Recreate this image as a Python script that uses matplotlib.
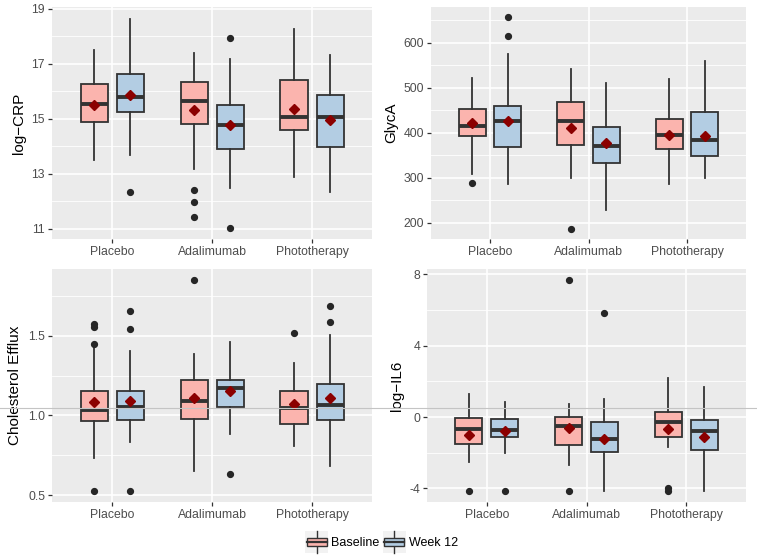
import matplotlib
matplotlib.use("Agg")
import matplotlib.pyplot as plt
from matplotlib.patches import Rectangle, Patch
from matplotlib.lines import Line2D
from matplotlib.legend_handler import HandlerBase
from matplotlib.ticker import FixedLocator, FormatStrFormatter

plt.rcParams['font.family'] = ['Liberation Sans', 'DejaVu Sans']

groups = ['Placebo', 'Adalimumab', 'Phototherapy']
times = ['Baseline', 'Week 12']
# order in every list: Placebo-B, Placebo-W12, Ada-B, Ada-W12, Photo-B, Photo-W12

# log-CRP
crp_whislo = [13.48, 13.69, 13.16, 12.47, 12.86, 12.32]
crp_q1     = [14.88, 15.24, 14.82, 13.91, 14.60, 13.98]
crp_med    = [15.53, 15.78, 15.65, 14.78, 15.06, 15.06]
crp_q3     = [16.28, 16.64, 16.35, 15.49, 16.40, 15.86]
crp_whishi = [17.49, 18.64, 17.38, 17.19, 18.28, 17.32]
crp_mean   = [15.51, 15.85, 15.31, 14.77, 15.37, 14.96]
crp_fliers = [[], [12.32], [12.41, 11.98, 11.43], [17.95, 11.02], [], []]

# GlycA
gly_whislo = [309, 285, 299, 229, 286, 299]
gly_q1     = [393, 369, 372, 333, 363, 348]
gly_med    = [415, 427, 427, 371, 395, 383]
gly_q3     = [453, 459, 468, 413, 431, 445]
gly_whishi = [521, 575, 542, 511, 520, 559]
gly_mean   = [422, 427, 411, 377, 395, 393]
gly_fliers = [[289], [656, 614], [187], [], [], []]

# Cholesterol efflux
ce_whislo = [0.733, 0.833, 0.650, 0.883, 0.806, 0.685]
ce_q1     = [0.962, 0.973, 0.979, 1.054, 0.944, 0.969]
ce_med    = [1.037, 1.052, 1.088, 1.173, 1.046, 1.067]
ce_q3     = [1.154, 1.154, 1.225, 1.221, 1.154, 1.194]
ce_whishi = [1.429, 1.404, 1.383, 1.460, 1.331, 1.506]
ce_mean   = [1.083, 1.088, 1.106, 1.154, 1.071, 1.106]
ce_fliers = [[1.575, 1.554, 1.448, 0.523], [1.656, 1.544, 0.527], [1.852],
             [0.635], [1.515], [1.688, 1.583]]

# log-IL6
il6_whislo = [-2.51, -2.01, -2.66, -4.15, -1.69, -4.15]
il6_q1     = [-1.51, -1.13, -1.56, -1.97, -1.10, -1.84]
il6_med    = [-0.67, -0.74, -0.52, -1.25, -0.26, -0.78]
il6_q3     = [-0.04, -0.09, 0.00, -0.28, 0.28, -0.17]
il6_whishi = [1.27, 0.82, 0.74, 1.02, 2.21, 1.67]
il6_mean   = [-1.00, -0.80, -0.63, -1.21, -0.65, -1.12]
il6_fliers = [[-4.17], [-4.17], [7.70, -4.17], [5.80], [-4.00, -4.17], []]

fills = ['#FBB4AE', '#B3CDE3']
edge = '#333333'

panels = [
    ('log\u2212CRP', crp_whislo, crp_q1, crp_med, crp_q3, crp_whishi, crp_mean, crp_fliers,
     (10.62, 19.07), [11, 13, 15, 17, 19], [12, 14, 16, 18], '%d'),
    ('GlycA', gly_whislo, gly_q1, gly_med, gly_q3, gly_whishi, gly_mean, gly_fliers,
     (164, 679), [200, 300, 400, 500, 600], [250, 350, 450, 550, 650], '%d'),
    ('Cholesterol Efflux', ce_whislo, ce_q1, ce_med, ce_q3, ce_whishi, ce_mean, ce_fliers,
     (0.457, 1.918), [0.5, 1.0, 1.5], [0.75, 1.25, 1.75], '%.1f'),
    ('log\u2212IL6', il6_whislo, il6_q1, il6_med, il6_q3, il6_whishi, il6_mean, il6_fliers,
     (-4.76, 8.29), [-4, 0, 4, 8], [-2, 2, 6], '%d'),
]

# axes rectangles in figure fractions (from pixel layout)
rects = [
    [52/757, 1-239/558, 320/757, 232/558],
    [431/757, 1-239/558, 315/757, 232/558],
    [52/757, 1-502/558, 320/757, 233/558],
    [427/757, 1-502/558, 319/757, 233/558],
]

fig = plt.figure(figsize=(7.57, 5.58), dpi=100)

offset = 0.18
bw = 0.27

for (ylab, wlo, q1, med, q3, whi, mean, fl, ylim, major, minor, fmt), r in zip(panels, rects):
    ax = fig.add_axes(r)
    ax.set_facecolor('#EBEBEB')
    for s in ax.spines.values():
        s.set_visible(False)

    stats = []
    pos = []
    for i in range(6):
        g, t = divmod(i, 2)
        stats.append(dict(whislo=wlo[i], q1=q1[i], med=med[i], q3=q3[i],
                          whishi=whi[i], mean=mean[i], fliers=fl[i]))
        pos.append(g + 1 + (offset if t else -offset))

    bp = ax.bxp(stats, positions=pos, widths=bw, patch_artist=True,
                showcaps=False, showmeans=True, manage_ticks=False,
                boxprops=dict(edgecolor=edge, linewidth=1.3),
                medianprops=dict(color=edge, linewidth=2.8),
                whiskerprops=dict(color=edge, linewidth=1.3),
                meanprops=dict(marker='D', markerfacecolor='#8B0000',
                               markeredgecolor='#8B0000', markersize=5.5),
                flierprops=dict(marker='o', markerfacecolor='#262626',
                                markeredgecolor='#262626', markersize=4.2))
    for i, b in enumerate(bp['boxes']):
        b.set_facecolor(fills[i % 2])
    for el in bp['boxes'] + bp['whiskers'] + bp['medians'] + bp['means'] + bp['fliers']:
        el.set_zorder(3)

    ax.set_xlim(0.4, 3.6)
    ax.set_ylim(*ylim)
    ax.set_xticks([1, 2, 3])
    ax.set_xticklabels(groups)
    ax.yaxis.set_major_locator(FixedLocator(major))
    ax.yaxis.set_minor_locator(FixedLocator(minor))
    ax.yaxis.set_major_formatter(FormatStrFormatter(fmt))
    ax.grid(which='major', color='white', linewidth=1.2, zorder=0)
    ax.grid(which='minor', axis='y', color='white', linewidth=0.6, zorder=0)
    ax.set_axisbelow(True)
    ax.tick_params(which='major', length=3, width=0.9, color=edge,
                   labelsize=8.8, labelcolor='#4D4D4D', pad=2)
    ax.tick_params(which='minor', length=0)
    ax.set_ylabel(ylab, fontsize=11, color='black', labelpad=4)


class BoxKey(HandlerBase):
    def create_artists(self, legend, orig, xd, yd, w, h, fs, trans):
        x0, y0 = -xd, -yd
        bg = Rectangle((x0 - 1, y0 - 4), w + 2, h + 8, facecolor='#F2F2F2',
                       edgecolor='none', transform=trans)
        cx = x0 + w / 2
        wl = Line2D([cx, cx], [y0 - 4, y0 + h + 4], color=edge, lw=1.0, transform=trans)
        box = Rectangle((x0, y0 + h * 0.1), w, h * 0.8, facecolor=orig.get_facecolor(),
                        edgecolor=edge, linewidth=1.0, transform=trans)
        md = Line2D([x0, x0 + w], [y0 + h / 2] * 2, color=edge, lw=1.6, transform=trans)
        return [bg, wl, box, md]


handles = [Patch(facecolor=c) for c in fills]
fig.legend(handles, times, handler_map={Patch: BoxKey()}, loc='center',
           bbox_to_anchor=(0.505, 1 - 543/558), ncol=2, frameon=False,
           fontsize=9, handlelength=1.6, handleheight=0.9, columnspacing=0.4,
           handletextpad=0.35)

# faint horizontal rule crossing the page in the original
fig.add_artist(Line2D([0, 1], [1 - 408/558] * 2, color='#C4C4C4', lw=0.8,
                      transform=fig.transFigure, zorder=10))

fig.savefig('out.png', dpi=100)
